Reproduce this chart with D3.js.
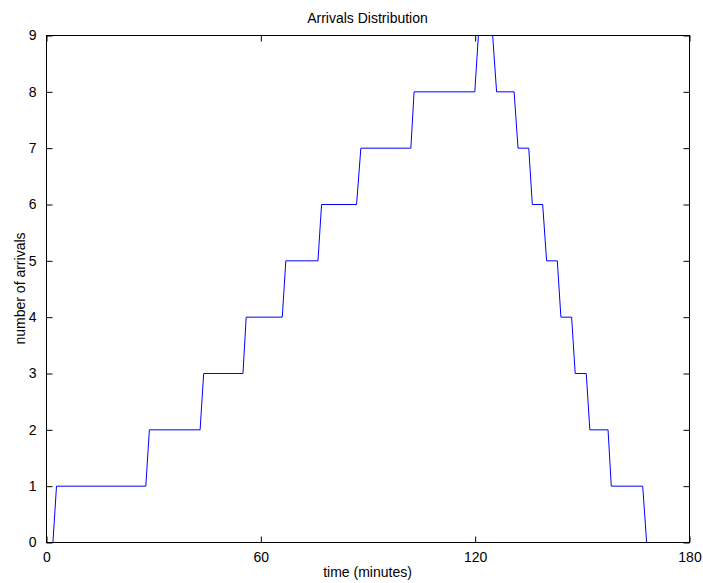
<!DOCTYPE html>
<html>
<head>
<meta charset="utf-8">
<script src="https://cdn.jsdelivr.net/npm/d3@7"></script>
<style>
  body { margin: 0; background: #fff; }
  svg { display: block; font-family: "Liberation Sans", Arial, sans-serif; }
</style>
</head>
<body>
<div id="chart"></div>
<script>
// step curve: time (minutes) and number of arrivals
const times = [1.8, 2.8, 27.8, 28.8, 43.0, 44.0, 55.0, 55.9, 66.0, 67.0, 76.0, 77.0,
  86.8, 88.0, 102.0, 102.9, 119.9, 120.9, 124.9, 126.0, 130.9, 132.0, 135.0, 136.0,
  138.9, 140.0, 143.0, 144.0, 147.0, 148.0, 151.1, 152.1, 157.2, 158.1, 166.9, 168.0];
const arrivals = [0, 1, 1, 2, 2, 3, 3, 4, 4, 5, 5, 6,
  6, 7, 7, 8, 8, 9, 9, 8, 8, 7, 7, 6,
  6, 5, 5, 4, 4, 3, 3, 2, 2, 1, 1, 0];
const xTicks = [0, 60, 120, 180];
const yTicks = [0, 1, 2, 3, 4, 5, 6, 7, 8, 9];

const width = 703, height = 583;
const margin = {top: 35, right: 14, bottom: 41, left: 46};
const innerW = width - margin.left - margin.right;
const innerH = height - margin.top - margin.bottom;

const x = d3.scaleLinear().domain([0, 180]).range([0, innerW]);
const y = d3.scaleLinear().domain([0, 9]).range([innerH, 0]);

const svg = d3.select("#chart").append("svg")
    .attr("width", width)
    .attr("height", height)
    .style("font-size", "14px");

const g = svg.append("g")
    .attr("transform", `translate(${margin.left + 0.5},${margin.top + 0.5})`);

const pts = times.map((t, i) => [t, arrivals[i]]);
const line = d3.line().x(d => x(d[0])).y(d => y(d[1]));

g.append("path")
    .datum(pts)
    .attr("fill", "none")
    .attr("stroke", "#0000ff")
    .attr("stroke-width", 1)
    .attr("d", line);

// axes, MATLAB style: ticks inward on all four sides
const tick = 6;
function styleAxis(sel) {
  sel.select(".domain").remove();
  sel.selectAll(".tick line").attr("stroke", "#000");
  sel.selectAll(".tick text").attr("fill", "#000").style("font-size", "14px")
      .style("font-family", "'Liberation Sans', Arial, sans-serif");
}

g.append("g")
    .attr("transform", `translate(0,${innerH})`)
    .call(d3.axisBottom(x).tickValues(xTicks).tickSize(-tick).tickPadding(tick + 4))
    .call(styleAxis);

g.append("g")
    .call(d3.axisTop(x).tickValues(xTicks).tickSize(-tick).tickFormat(""))
    .call(styleAxis);

g.append("g")
    .call(d3.axisLeft(y).tickValues(yTicks).tickSize(-tick).tickPadding(tick + 4))
    .call(styleAxis);

g.append("g")
    .attr("transform", `translate(${innerW},0)`)
    .call(d3.axisRight(y).tickValues(yTicks).tickSize(-tick).tickFormat(""))
    .call(styleAxis);

g.append("rect")
    .attr("width", innerW)
    .attr("height", innerH)
    .attr("fill", "none")
    .attr("stroke", "#000");

svg.append("text")
    .attr("x", margin.left + innerW / 2)
    .attr("y", 23)
    .attr("text-anchor", "middle")
    .text("Arrivals Distribution");

svg.append("text")
    .attr("x", margin.left + innerW / 2)
    .attr("y", 577)
    .attr("text-anchor", "middle")
    .text("time (minutes)");

svg.append("text")
    .attr("transform", `translate(25,${margin.top + innerH / 2}) rotate(-90)`)
    .attr("text-anchor", "middle")
    .text("number of arrivals");
</script>
</body>
</html>
